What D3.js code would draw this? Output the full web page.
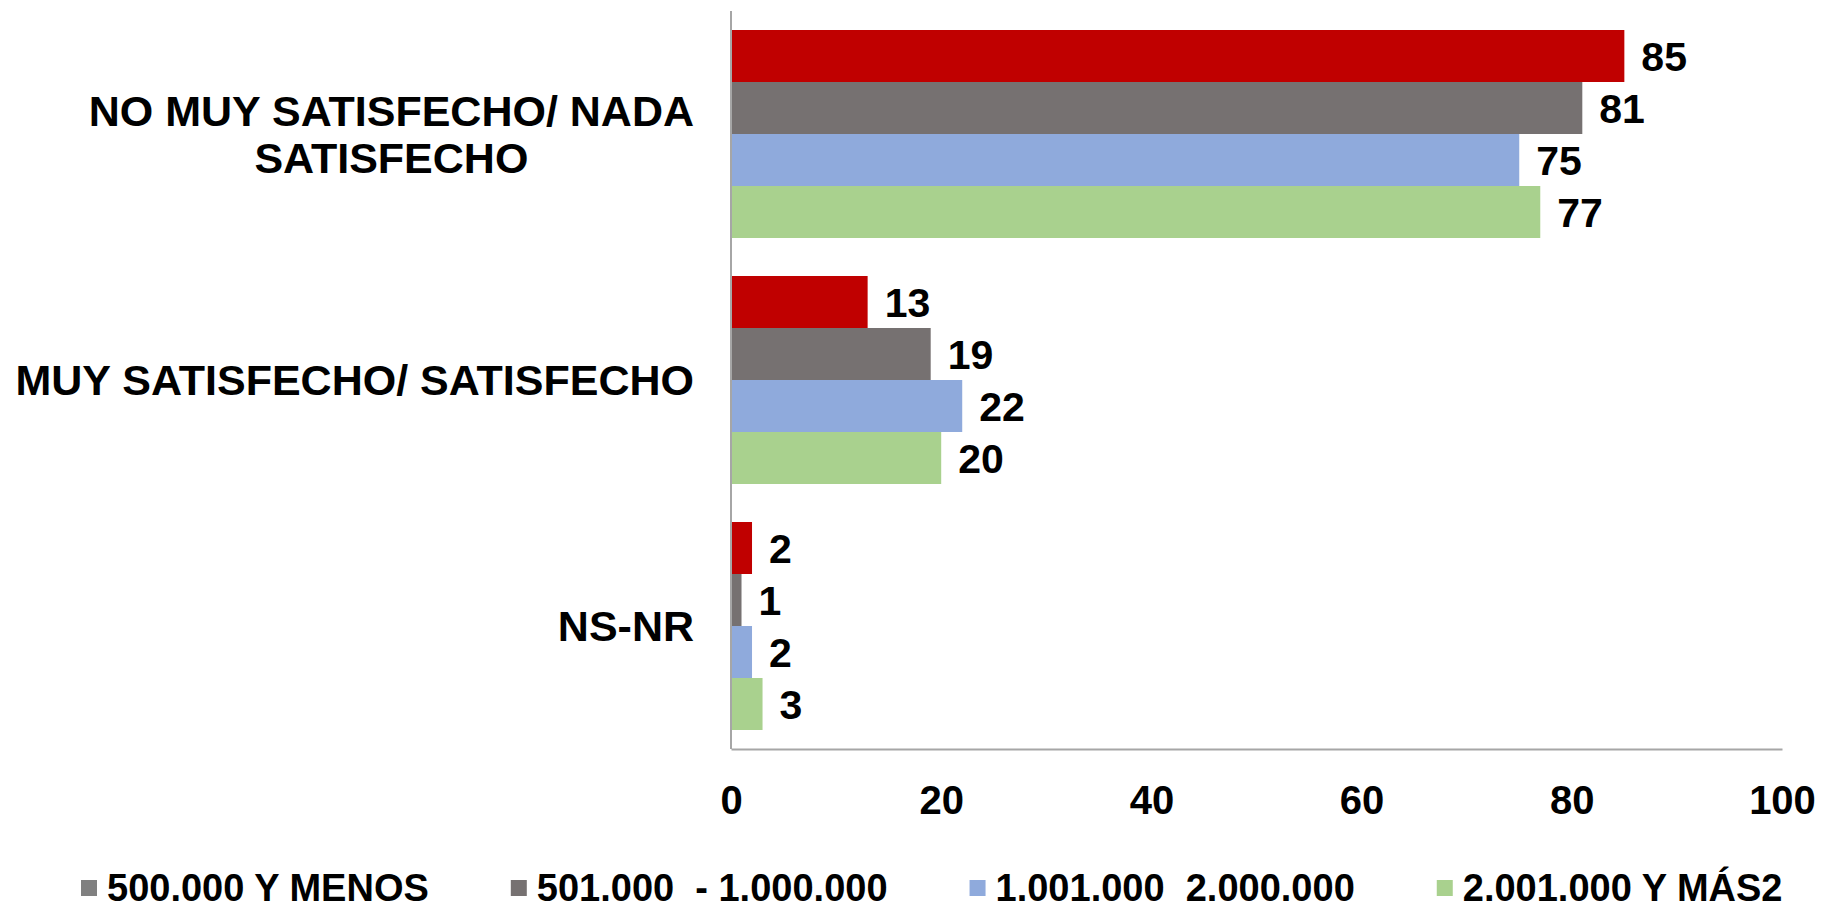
<!DOCTYPE html>
<html>
<head>
<meta charset="utf-8">
<script src="https://cdn.jsdelivr.net/npm/d3@7"></script>
<style>
  html, body { margin: 0; padding: 0; background: #ffffff; overflow: hidden; }
  svg text { font-family: "Liberation Sans", Arial, sans-serif; font-weight: bold; fill: #000; white-space: pre; }
</style>
</head>
<body>
<svg id="chart" width="1822" height="909"></svg>
<script>
const categories = [
  ["NO MUY SATISFECHO/ NADA", "SATISFECHO"],
  ["MUY SATISFECHO/ SATISFECHO"],
  ["NS-NR"]
];
const seriesNames = ["500.000 Y MENOS", "501.000  - 1.000.000", "1.001.000  2.000.000", "2.001.000 Y MÁS2"];
const seriesColors = ["#C00000", "#767171", "#8FAADC", "#A9D18E"];
const legendColors = ["#808080", "#767171", "#8FAADC", "#A9D18E"];
const s500 = [85, 13, 2];
const s1000 = [81, 19, 1];
const s2000 = [75, 22, 2];
const s2001 = [77, 20, 3];
const seriesValues = [s500, s1000, s2000, s2001];
const xTicks = [0, 20, 40, 60, 80, 100];

(function () {
const svg = d3.select("#chart");
const pLeft = 731, pRight = 1782, pTop = 11, pBottom = 749;

const x = d3.scaleLinear().domain([0, 100]).range([pLeft, pRight]);
const catKeys = categories.map((c, i) => i);
const y = d3.scaleBand().domain(catKeys).range([pTop, pBottom])
  .paddingInner(38 / 246).paddingOuter(19 / 246);
const ySub = d3.scaleBand().domain(d3.range(seriesNames.length)).range([0, y.bandwidth()]);

// bars
const groups = svg.append("g").selectAll("g").data(catKeys).join("g")
  .attr("transform", d => `translate(0,${y(d)})`);
seriesNames.forEach((name, si) => {
  groups.append("rect")
    .attr("x", x(0))
    .attr("y", ySub(si))
    .attr("width", d => x(seriesValues[si][d]) - x(0))
    .attr("height", ySub.bandwidth())
    .attr("fill", seriesColors[si]);
  groups.append("text")
    .attr("x", d => x(seriesValues[si][d]) + 17)
    .attr("y", ySub(si) + ySub.bandwidth() / 2 + 1)
    .attr("dy", "0.35em")
    .attr("font-size", 41)
    .text(d => seriesValues[si][d]);
});

// axes lines
svg.append("line").attr("x1", pLeft).attr("x2", pLeft).attr("y1", pTop).attr("y2", pBottom)
  .attr("stroke", "#A6A6A6").attr("stroke-width", 2);
const xAxis = d3.axisBottom(x).tickValues(xTicks).tickSize(0).tickPadding(0);
const gx = svg.append("g").attr("transform", `translate(0,${pBottom})`).call(xAxis);
gx.attr("font-family", null).attr("font-size", null);
gx.select(".domain").attr("stroke", "#A6A6A6").attr("stroke-width", 2);
gx.selectAll("text").attr("font-size", 40)
  .attr("y", 65).attr("dy", 0).style("fill", "#000");

// category labels
const labelRight = 694;
categories.forEach((lines, i) => {
  const cy = y(i) + y.bandwidth() / 2;
  const g = svg.append("g");
  const lh = 47;
  const texts = lines.map((ln, j) => g.append("text")
    .attr("font-size", 43)
    .attr("text-anchor", "middle")
    .attr("y", cy + (j - (lines.length - 1) / 2) * lh)
    .attr("dy", "0.35em")
    .text(ln));
  const maxW = d3.max(texts, t => t.node().getComputedTextLength());
  texts.forEach(t => t.attr("x", labelRight - maxW / 2));
});

// legend
const legend = svg.append("g");
let lx = 81;
const ly = 888;
seriesNames.forEach((name, i) => {
  legend.append("rect").attr("x", lx).attr("y", ly - 8).attr("width", 16).attr("height", 16)
    .attr("fill", legendColors[i]);
  const t = legend.append("text").attr("x", lx + 26).attr("y", ly).attr("dy", "0.35em")
    .attr("font-size", 38).text(name);
  lx = lx + 26 + t.node().getComputedTextLength() + 82;
});
})();
</script>
</body>
</html>
